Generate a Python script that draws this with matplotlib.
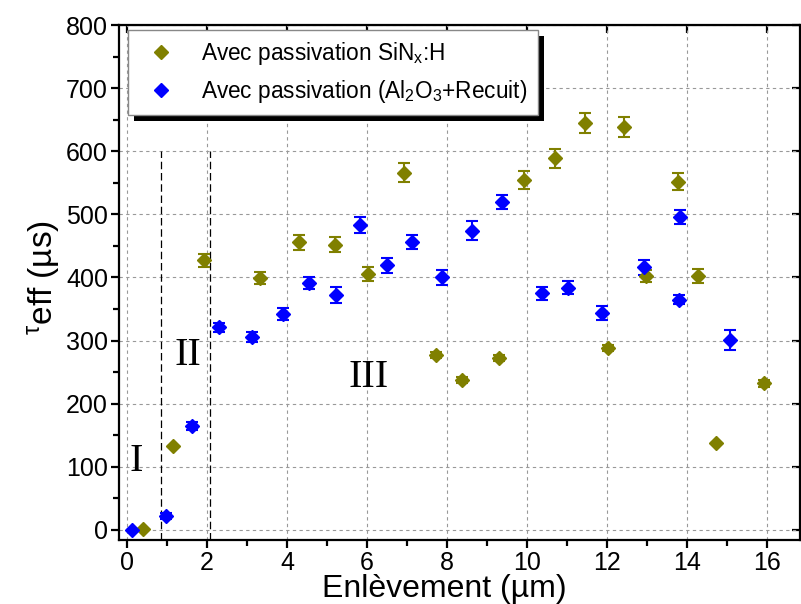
import matplotlib
matplotlib.use("Agg")
import matplotlib.pyplot as plt
from matplotlib.patches import Rectangle
from matplotlib.ticker import MultipleLocator

# SiNx:H passivation
sin_x = [0.39, 1.14, 1.93, 3.33, 4.31, 5.21, 6.03, 6.93, 7.73, 8.38, 9.30,
         9.93, 10.69, 11.45, 12.02, 12.43, 12.98, 13.76, 14.26, 14.73, 15.93]
sin_y = [2, 133, 427, 399, 456, 452, 405, 566, 277, 238, 272,
         554, 589, 645, 288, 639, 402, 552, 402, 138, 232]
sin_err = [0, 0, 10, 10, 12, 12, 11, 15, 5, 5, 5,
           14, 15, 16, 5, 16, 10, 14, 11, 0, 5]

# Al2O3 + recuit
al_x = [0.12, 0.97, 1.62, 2.30, 3.12, 3.89, 4.56, 5.23, 5.83, 6.49, 7.13,
        7.88, 8.63, 9.37, 10.38, 11.02, 11.86, 12.92, 13.79, 13.83, 15.08]
al_y = [0, 22, 165, 321, 306, 342, 391, 372, 483, 419, 456,
        400, 474, 519, 375, 384, 344, 416, 365, 496, 301]
al_err = [0, 4, 6, 7, 8, 10, 10, 13, 12, 12, 11,
          12, 15, 11, 10, 10, 11, 12, 7, 11, 16]

zones = [0.85, 2.07]
zone_labels = ["I", "II", "III"]
zone_pos = [(0.05, 109), (1.18, 277), (5.53, 242)]

plt.rcParams['font.family'] = ['Liberation Sans', 'DejaVu Sans']
plt.rcParams['mathtext.default'] = 'regular'

fig = plt.figure(figsize=(8.01, 6.04), dpi=100)
ax = fig.add_axes([0.1486, 0.106, 0.8502, 0.8526])

olive = '#808000'
blue = '#0000ff'

ax.errorbar(sin_x, sin_y, yerr=sin_err, fmt='none', ecolor=olive,
            elinewidth=1.5, capsize=4, capthick=1.5, zorder=3)
ax.plot(sin_x, sin_y, 'D', color=olive, ms=7, zorder=4,
        label='Avec passivation SiN$_{x}$:H')
ax.errorbar(al_x, al_y, yerr=al_err, fmt='none', ecolor=blue,
            elinewidth=1.5, capsize=4, capthick=1.5, zorder=3)
ax.plot(al_x, al_y, 'D', color=blue, ms=7, zorder=4,
        label='Avec passivation (Al$_{2}$O$_{3}$+Recuit)')

for z in zones:
    ax.plot([z, z], [-16, 600], color='black', lw=0.9, ls=(0, (6, 3)), zorder=2)

for lab, (tx, ty) in zip(zone_labels, zone_pos):
    ax.text(tx, ty, lab, family='Liberation Serif', fontsize=29,
            ha='left', va='center')

ax.set_xlim(-0.2, 16.82)
ax.set_ylim(-16, 800)
ax.xaxis.set_major_locator(MultipleLocator(2))
ax.xaxis.set_minor_locator(MultipleLocator(1))
ax.yaxis.set_major_locator(MultipleLocator(100))
ax.yaxis.set_minor_locator(MultipleLocator(50))
ax.grid(True, which='major', color='#999999', ls=(0, (3, 3)), lw=0.8)
ax.set_axisbelow(True)

for s in ax.spines.values():
    s.set_linewidth(1.6)
ax.tick_params(which='major', direction='out', length=6, width=1.6,
               labelsize=18, pad=2)
ax.tick_params(which='minor', direction='out', length=4, width=1.6)

top = ax.secondary_xaxis('top')
top.set_xticks(range(0, 17, 2))
top.tick_params(direction='in', length=6, width=1.6, labeltop=False)
right = ax.secondary_yaxis('right')
right.set_yticks(range(0, 801, 100))
right.tick_params(direction='in', length=6, width=1.6, labelright=False)

ax.set_xlabel('Enlèvement (µm)', fontsize=23, labelpad=-1)
ax.xaxis.label.set_x(0.477)
ax.set_ylabel(r'$^{\tau}$eff (µs)', fontsize=24, labelpad=3)
ax.yaxis.label.set_y(0.51)

leg = ax.legend(loc='upper left', bbox_to_anchor=(0.013, 0.99), fontsize=16.3,
                frameon=True, fancybox=False, edgecolor='#888888',
                framealpha=1, borderaxespad=0,
                handletextpad=0.8, borderpad=0.45, labelspacing=0.48,
                handlelength=2.0)
leg.get_frame().set_linewidth(1.0)
leg.set_zorder(6)

fig.canvas.draw()
bb = leg.get_window_extent().transformed(ax.transAxes.inverted())
dx = 6 / (ax.bbox.width)
dy = 6 / (ax.bbox.height)
ax.add_patch(Rectangle((bb.x0 + dx, bb.y0 - dy), bb.width, bb.height,
                       transform=ax.transAxes, facecolor='black',
                       edgecolor='none', zorder=5.5, clip_on=False))

fig.savefig('out.png', dpi=100)
